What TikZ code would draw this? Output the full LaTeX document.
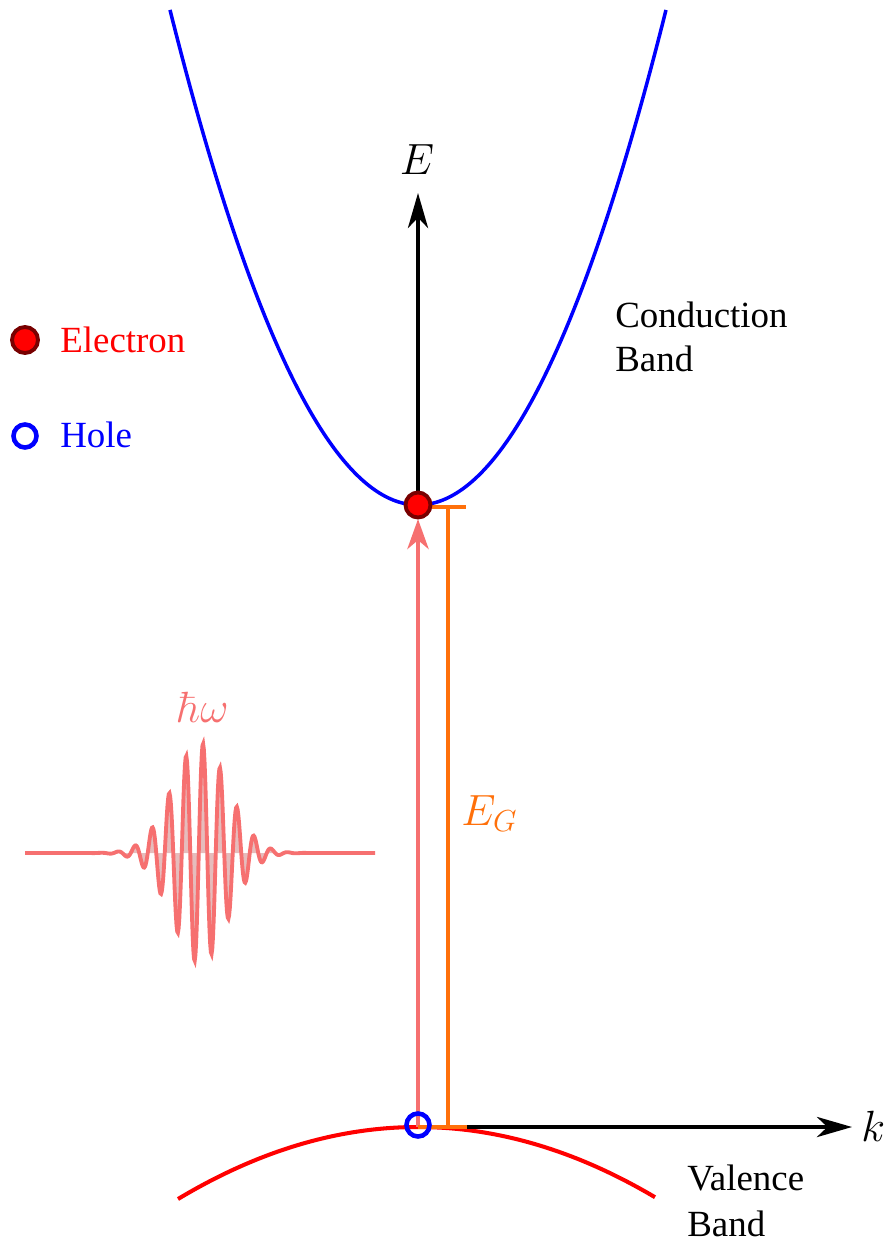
\documentclass[tikz,border=0pt]{standalone}
\usepackage[no-math]{fontspec}
\setmainfont{Liberation Serif}
\usetikzlibrary{arrows.meta}
\definecolor{bandblue}{rgb}{0,0,1}
\definecolor{bandred}{rgb}{1,0,0}
\definecolor{gaporange}{RGB}{255,112,10}
\definecolor{photon}{RGB}{246,112,112}
\definecolor{photonfill}{RGB}{220,160,160}
\definecolor{elecdark}{RGB}{120,0,0}
\tikzset{
  axisline/.style={line width=2pt,black,-{Stealth[length=20pt,width=11.5pt,inset=6pt]}},
  txt/.style={font=\fontsize{21}{25}\selectfont,inner sep=0pt,anchor=base west},
  mathlbl/.style={font=\fontsize{26}{30}\selectfont,inner sep=0pt},
  electron/.style={circle,fill=bandred,draw=elecdark,line width=2.2pt,minimum size=0.5cm,inner sep=0pt},
  hole/.style={circle,draw=bandblue,line width=2.6pt,minimum size=0.46cm,inner sep=0pt},
}
\begin{document}
\begin{tikzpicture}[x=0.02cm,y=-0.02cm]
\useasboundingbox (0,0) rectangle (889,1243);
% key coordinates
\coordinate (O) at (418,1127);
\coordinate (Cmin) at (418,505);
\coordinate (Etip) at (418,193);
\coordinate (ktip) at (852,1127);
\coordinate (ptip) at (418,519);
\coordinate (gtopL) at (432,507);
\coordinate (gtopR) at (466,507);
\coordinate (gtop) at (448,507);
\coordinate (gbot) at (448,1127);
\coordinate (gbotR) at (467,1127);
% bands
\draw[bandblue,line width=2pt] plot[domain=-24.8:24.8,samples=120,smooth] ({418+10*\x},{505-0.805*\x*\x});
\draw[bandred,line width=2.3pt] plot[domain=-24:23.7,samples=80,smooth] ({418+10*\x},{1127+0.125*\x*\x});
% axes
\draw[axisline] (Cmin) -- (Etip);
\draw[axisline] (O) -- (ktip);
\node[mathlbl,anchor=base] (Elbl) at (417,175) {$E$};
\node[mathlbl,anchor=west] (klbl) at (861,1126) {$k$};
% photon arrow
\draw[photon,line width=2.8pt,-{Stealth[length=17pt,width=12pt,inset=5pt]}] (O) -- (ptip);
% gap bracket
\draw[gaporange,line width=2.2pt] (gtopL) -- (gtopR);
\draw[gaporange,line width=2.2pt] (gtop) -- (gbot);
\draw[gaporange,line width=2.6pt] (O) -- (gbotR);
\node[mathlbl,anchor=base west,text=gaporange] (EG) at (461,825) {$E_G$};
% particles
\node[electron] (el) at (418,505) {};
\node[hole] (ho) at (418,1125) {};
% wave packet
\fill[photonfill,opacity=0.7] plot[domain=25:375,samples=500] (\x,{853-110*exp(-0.5*((\x-200)/28)^2)*cos(21.1765*(\x-203))}) -- (25,853) -- cycle;
\draw[photon,line width=2.2pt] plot[domain=25:375,samples=500] (\x,{853-110*exp(-0.5*((\x-200)/28)^2)*cos(21.1765*(\x-203))});
\node[mathlbl,anchor=base,text=photon] (hw) at (203,722) {$\hbar\omega$};
% legend
\node[electron,minimum size=0.52cm] (lel) at (25,340) {};
\node[txt,text=bandred] (lelt) at (60,352) {Electron};
\node[hole] (lho) at (25,436) {};
\node[txt,text=bandblue] (lhot) at (60,447) {Hole};
% band labels
\node[txt] (cb1) at (615,327) {Conduction};
\node[txt] (cb2) at (615,371) {Band};
\node[txt] (vb1) at (687,1190) {Valence};
\node[txt] (vb2) at (687,1236) {Band};
\end{tikzpicture}
\end{document}
